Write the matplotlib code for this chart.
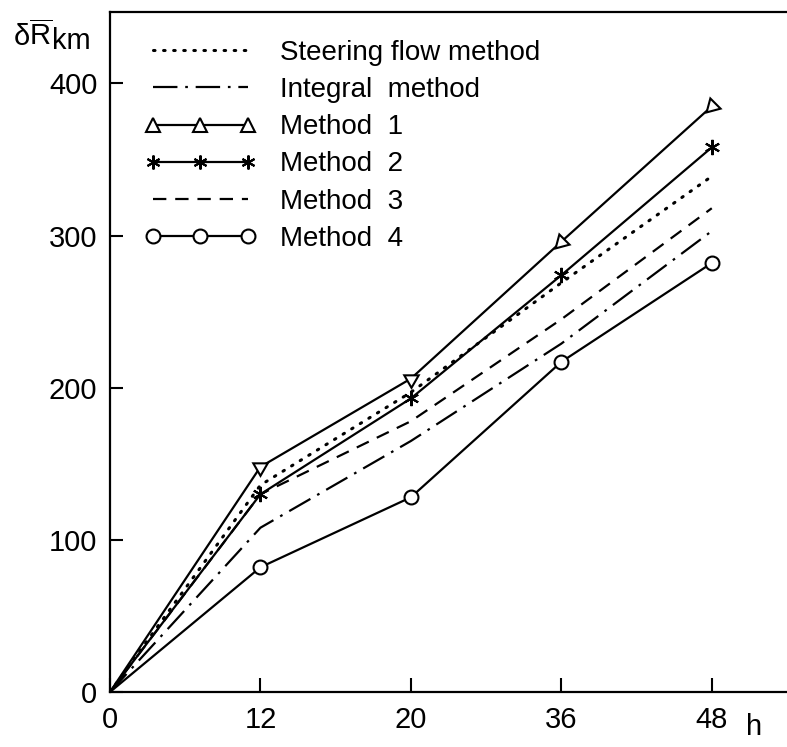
import matplotlib
matplotlib.use("Agg")
import matplotlib.pyplot as plt
from matplotlib.lines import Line2D

# ---- data ----
hours = ["0", "12", "20", "36", "48"]
steering = [0, 136, 197, 269, 339]
integral = [0, 108, 165, 229, 303]
method1 = [0, 148, 206, 296, 385]
method2 = [0, 130, 193, 274, 358]
method3 = [0, 130, 178, 245, 318]
method4 = [0, 82, 128, 217, 282]
yticks = [0, 100, 200, 300, 400]
legend_labels = ["Steering flow method", "Integral  method", "Method  1",
                 "Method  2", "Method  3", "Method  4"]

FONT = ["Liberation Sans", "DejaVu Sans"]
plt.rcParams["font.family"] = FONT
plt.rcParams["mathtext.fontset"] = "custom"
plt.rcParams["mathtext.rm"] = "Liberation Sans"
plt.rcParams["mathtext.it"] = "Liberation Sans"
plt.rcParams["mathtext.sf"] = "Liberation Sans"

FS = 20

fig = plt.figure(figsize=(7.87, 7.47), dpi=100)
ax = fig.add_axes([110 / 787, 1 - 692 / 747, 1 - 110 / 787, (692 - 12) / 747])

x = list(range(len(hours)))
lw = 1.6
k = "black"
dotted = (0, (0.5, 2.8))
dashdot = (0, (11, 3.5, 1.2, 3.5))
dashed = (0, (6, 4))

ax.plot(x, steering, color=k, lw=2.2, linestyle=dotted, dash_capstyle="round")
ax.plot(x, integral, color=k, lw=lw, linestyle=dashdot)
ax.plot(x, method3, color=k, lw=lw, linestyle=dashed)
ax.plot(x, method2, color=k, lw=lw, marker=(6, 2, 0), markersize=11,
        markeredgewidth=1.5, markevery=list(range(1, len(x))))
ax.plot(x, method4, color=k, lw=lw, marker="o", markersize=10, mfc="white",
        markeredgewidth=1.5, markevery=list(range(1, len(x))))
ax.plot(x, method1, color=k, lw=lw)
tri_angles = [0, 180, 180, 135, 135]
for i in range(1, len(x)):
    ax.plot(x[i], method1[i], linestyle="none", marker=(3, 0, tri_angles[i]),
            markersize=12, mfc="white", mec=k, markeredgewidth=1.5)

ax.set_xlim(0, 4.5)
ax.set_ylim(0, 447)
ax.set_xticks(x)
ax.set_xticklabels(hours)
ax.set_yticks(yticks)
ax.set_yticklabels([str(v) for v in yticks])
ax.tick_params(axis="both", direction="in", labelsize=FS + 1, width=1.5, colors=k)
ax.tick_params(axis="y", length=9, pad=9)
ax.tick_params(axis="x", length=10, pad=10)
ax.spines["right"].set_visible(False)
for s in ["left", "bottom", "top"]:
    ax.spines[s].set_linewidth(1.6)

ax.annotate("h", xy=(4, 0), xycoords="data", xytext=(25, -15),
            textcoords="offset points", fontsize=FS + 1, ha="left", va="top")

fig.text(13 / 787, 1 - 46 / 747, r"$\delta\overline{\mathrm{R}}$", fontsize=FS + 1,
         ha="left", va="baseline")
fig.text(52 / 787, 1 - 49 / 747, "km", fontsize=FS + 1, ha="left", va="baseline")

handles = [
    Line2D([], [], color=k, lw=2.2, linestyle=dotted, dash_capstyle="round"),
    Line2D([], [], color=k, lw=lw, linestyle=dashdot),
    Line2D([], [], color=k, lw=lw, marker="^", markersize=10, mfc="white", markeredgewidth=1.5),
    Line2D([], [], color=k, lw=lw, marker=(6, 2, 0), markersize=10, markeredgewidth=1.5),
    Line2D([], [], color=k, lw=lw, linestyle=dashed),
    Line2D([], [], color=k, lw=lw, marker="o", markersize=10, mfc="white", markeredgewidth=1.5),
]
leg = ax.legend(handles, legend_labels, loc="upper left", bbox_to_anchor=(0.035, 0.975),
                frameon=False, fontsize=FS, numpoints=3, handlelength=4.0,
                handletextpad=0.85, labelspacing=0.4, borderaxespad=0)

fig.savefig("out.png", dpi=100)
